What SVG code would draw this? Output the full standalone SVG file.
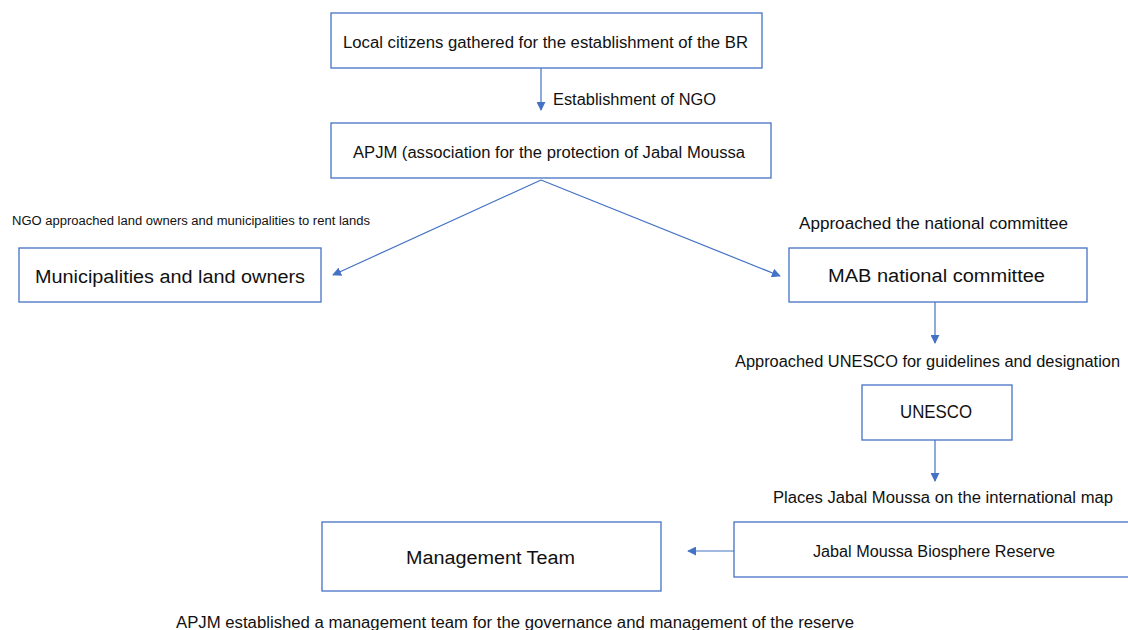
<svg xmlns="http://www.w3.org/2000/svg" width="1128" height="630" viewBox="0 0 1128 630">
<defs>
<marker id="ah" viewBox="0 0 10 10" refX="9" refY="5" markerWidth="9" markerHeight="9" markerUnits="userSpaceOnUse" orient="auto">
<path d="M0,0 L10,5 L0,10 z" fill="#4472C4"/>
</marker>
</defs>
<style>
.box{fill:#fff;stroke:#4472C4;stroke-width:1.3}
.conn{stroke:#4472C4;stroke-width:1.2;fill:none}
text{font-family:"Liberation Sans",Arial,sans-serif;fill:#111}
.t15{font-size:16px}
.t18{font-size:18px}
.t12{font-size:12.5px}
</style>
<rect width="1128" height="630" fill="#fff"/>
<g id="connectors">
<line class="conn" x1="541" y1="68" x2="541" y2="110" marker-end="url(#ah)"/>
<line class="conn" x1="541" y1="180" x2="333" y2="275" marker-end="url(#ah)"/>
<line class="conn" x1="541" y1="180" x2="780" y2="276" marker-end="url(#ah)"/>
<line class="conn" x1="935" y1="302" x2="935" y2="343" marker-end="url(#ah)"/>
<line class="conn" x1="935" y1="440" x2="935" y2="481" marker-end="url(#ah)"/>
<line class="conn" x1="734" y1="551" x2="688" y2="551" marker-end="url(#ah)"/>
<text class="t15" x="553" y="105" textLength="163" lengthAdjust="spacingAndGlyphs">Establishment of NGO</text>
<text class="t12" x="12" y="225" textLength="358" lengthAdjust="spacingAndGlyphs">NGO approached land owners and municipalities to rent lands</text>
<text class="t15" x="799" y="229" textLength="269" lengthAdjust="spacingAndGlyphs">Approached the national committee</text>
<text class="t15" x="735" y="367" textLength="385" lengthAdjust="spacingAndGlyphs">Approached UNESCO for guidelines and designation</text>
<text class="t15" x="773" y="503" textLength="340" lengthAdjust="spacingAndGlyphs">Places Jabal Moussa on the international map</text>
<text class="t15" x="176" y="628" textLength="678" lengthAdjust="spacingAndGlyphs">APJM established a management team for the governance and management of the reserve</text>
</g>
<g id="n1">
<rect class="box" x="331" y="13" width="431" height="55"/>
<text class="t15" x="343" y="48" textLength="405" lengthAdjust="spacingAndGlyphs">Local citizens gathered for the establishment of the BR</text>
</g>
<g id="n2">
<rect class="box" x="331" y="123" width="440" height="55"/>
<text class="t15" x="353" y="158" textLength="392" lengthAdjust="spacingAndGlyphs">APJM (association for the protection of Jabal Moussa</text>
</g>
<g id="n3">
<rect class="box" x="19" y="248" width="302" height="54"/>
<text class="t18" x="35" y="283" textLength="270" lengthAdjust="spacingAndGlyphs">Municipalities and land owners</text>
</g>
<g id="n4">
<rect class="box" x="789" y="248" width="298" height="54"/>
<text class="t18" x="828" y="282" textLength="217" lengthAdjust="spacingAndGlyphs">MAB national committee</text>
</g>
<g id="n5">
<rect class="box" x="862" y="385" width="150" height="55"/>
<text class="t18" x="900" y="418" textLength="72" lengthAdjust="spacingAndGlyphs">UNESCO</text>
</g>
<g id="n6">
<rect class="box" x="734" y="522" width="400" height="55"/>
<text class="t15" x="813" y="557" textLength="242" lengthAdjust="spacingAndGlyphs">Jabal Moussa Biosphere Reserve</text>
</g>
<g id="n7">
<rect class="box" x="322" y="522" width="339" height="69"/>
<text class="t18" x="406" y="564" textLength="169" lengthAdjust="spacingAndGlyphs">Management Team</text>
</g>
</svg>
